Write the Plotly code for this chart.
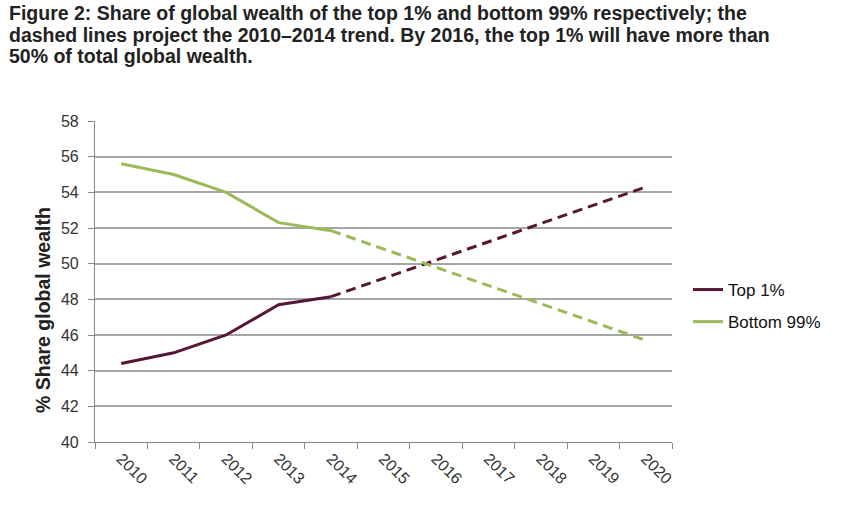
import plotly.graph_objects as go

years = ["2010", "2011", "2012", "2013", "2014", "2015", "2016", "2017", "2018", "2019", "2020"]
actual_years = ["2010", "2011", "2012", "2013", "2014"]
top1 = [44.4, 45.0, 46.0, 47.7, 48.15]
bottom99 = [55.6, 55.0, 54.0, 52.3, 51.85]
proj_years = ["2014", "2020"]
top1_proj = [48.15, 54.3]
bottom99_proj = [51.85, 45.7]
y_ticks = [40, 42, 44, 46, 48, 50, 52, 54, 56, 58]
title_lines = [
    "Figure 2: Share of global wealth of the top 1% and bottom 99% respectively; the",
    "dashed lines project the 2010–2014 trend. By 2016, the top 1% will have more than",
    "50% of total global wealth.",
]

PURPLE = "#561636"
GREEN = "#9bbb59"

L, R, T, B = 95, 180, 121, 68
PW, PH = 852 - L - R, 510 - T - B

fig = go.Figure()
fig.add_trace(go.Scatter(x=actual_years, y=top1, mode="lines", name="Top 1%",
                         line=dict(color=PURPLE, width=3), legendgroup="a"))
fig.add_trace(go.Scatter(x=actual_years, y=bottom99, mode="lines", name="Bottom 99%",
                         line=dict(color=GREEN, width=3), legendgroup="b"))
fig.add_trace(go.Scatter(x=proj_years, y=top1_proj, mode="lines", showlegend=False,
                         line=dict(color=PURPLE, width=3, dash="10px,6px")))
fig.add_trace(go.Scatter(x=proj_years, y=bottom99_proj, mode="lines", showlegend=False,
                         line=dict(color=GREEN, width=3, dash="10px,6px")))

fig.update_layout(
    width=852, height=510,
    margin=dict(l=L, r=R, t=T, b=B),
    paper_bgcolor="white", plot_bgcolor="white",
    font=dict(family="Liberation Sans, Arial, sans-serif", color="#222"),
    showlegend=True,
    legend=dict(x=(688 - L) / PW, y=(510 - B - 272) / PH, xanchor="left", yanchor="top",
                font=dict(size=17, color="#111"), tracegroupgap=7,
                traceorder="grouped", bgcolor="rgba(0,0,0,0)"),
)
fig.update_xaxes(
    type="category", categoryorder="array", categoryarray=years,
    range=[-0.5, 10.5], tickmode="array", tickvals=years, ticktext=years,
    tickangle=45, tickson="boundaries", ticks="outside", ticklen=6,
    tickcolor="#888", showline=True, linecolor="#888", linewidth=1.2,
    showgrid=False, tickfont=dict(size=16, color="#333"), automargin=False,
)
fig.update_yaxes(
    range=[40, 58], tickmode="array", tickvals=y_ticks,
    ticks="outside", ticklen=6, tickcolor="#888", ticklabelstandoff=6,
    showline=True, linecolor="#888", linewidth=1.2,
    showgrid=True, gridcolor="#a6a6a6", gridwidth=1.5,
    tickfont=dict(size=16, color="#333"), zeroline=False, automargin=False,
)

for i, line in enumerate(title_lines):
    yc = 13 + i * 21.5
    fig.add_annotation(
        text="<b>" + line + "</b>",
        xref="paper", yref="paper", x=(7 - L) / PW, y=(510 - B - yc) / PH,
        xanchor="left", yanchor="middle", align="left", showarrow=False,
        font=dict(size=19.5, color="#222"),
    )
fig.add_annotation(
    text="<b>% Share global wealth</b>", textangle=-90,
    xref="paper", yref="paper", x=(43 - L) / PW, y=(510 - B - 310) / PH,
    xanchor="center", yanchor="middle", showarrow=False,
    font=dict(size=19.5, color="#222"),
)

fig.write_html("out.html", config={"displayModeBar": False},
               post_script="document.body.style.margin='0';document.body.style.overflow='hidden';")
